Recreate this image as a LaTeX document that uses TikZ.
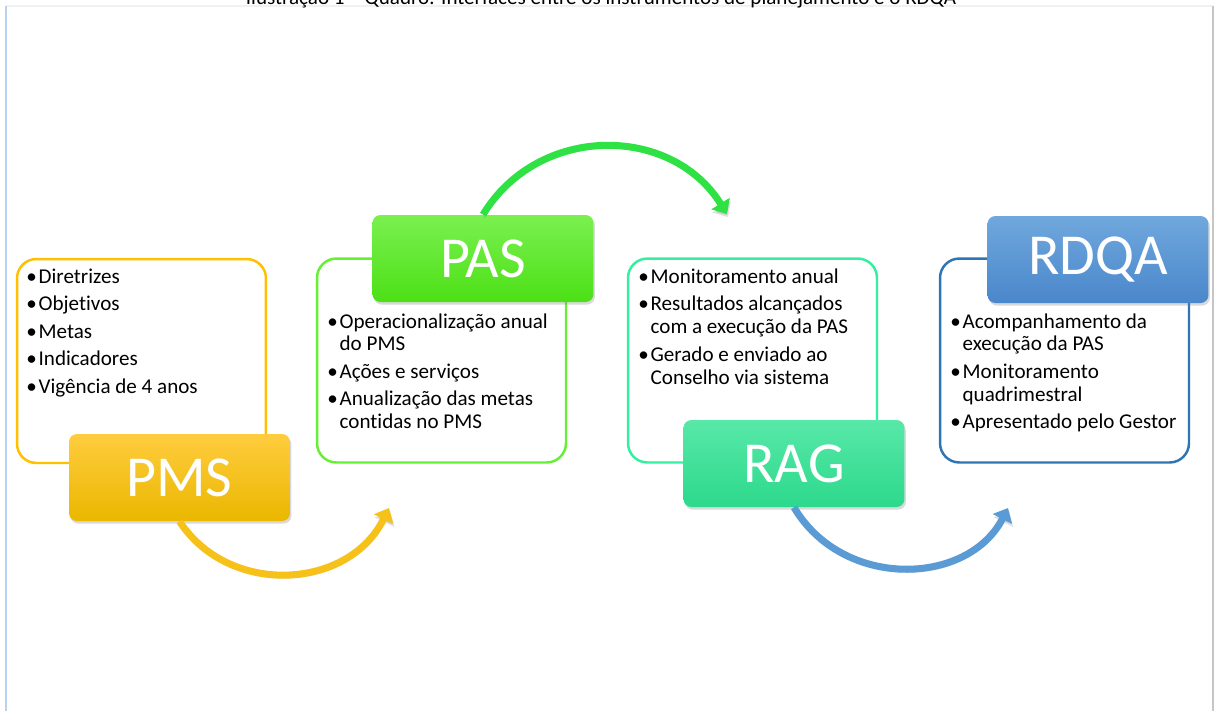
\documentclass[tikz,border=0pt]{standalone}
\usepackage{fontspec}
\setmainfont[Ligatures=NoCommon]{Carlito}
\usetikzlibrary{arrows.meta,shadows}
\definecolor{pmsline}{HTML}{FFC000}
\definecolor{pmstop}{HTML}{FFCC3F}
\definecolor{pmsbot}{HTML}{EAB700}
\definecolor{pasline}{HTML}{66F033}
\definecolor{pastop}{HTML}{7BF050}
\definecolor{pasbot}{HTML}{4CE016}
\definecolor{ragline}{HTML}{35EFA0}
\definecolor{ragtop}{HTML}{58E8A8}
\definecolor{ragbot}{HTML}{2CD98C}
\definecolor{rdqaline}{HTML}{2E75B6}
\definecolor{rdqatop}{HTML}{70A8DD}
\definecolor{rdqabot}{HTML}{4A87CB}
\definecolor{yellowarrow}{HTML}{F6C21A}
\definecolor{greenarrow}{HTML}{2FE244}
\definecolor{bluearrow}{HTML}{5B9BD5}
\tikzset{
%Define standard arrow tip
>={Triangle[length=7pt,width=12pt]},
%Define styles for the boxes and the cycle arrows
body box/.style={draw, line width=1.4pt, rounded corners=11pt, fill=white, minimum width=4.98cm, minimum height=4.08cm},
title box/.style={rounded corners=4.5pt, minimum width=4.42cm, minimum height=1.74cm, text=white, font=\fontsize{33}{36}\selectfont, drop shadow={opacity=.3, shadow xshift=.8pt, shadow yshift=-1.5pt}},
cycle arrow/.style={->, line width=4pt, preaction={draw=black, opacity=.12, transform canvas={xshift=.6pt, yshift=-1.8pt}}},
bullet list/.style={anchor=base west, inner sep=0pt, font=\fontsize{12}{13}\selectfont},
}

\begin{document}
\begin{tikzpicture}[x=0.02cm, y=-0.02cm]
\useasboundingbox (0,0) rectangle (1216,711);
\clip (0,0) rectangle (1216,711);
% Frame and cut caption
\draw[color=blue!20!gray!10, line width=.6pt] (6,6) -- (1213,6);
\draw[color=rdqatop!50, line width=1.2pt] (6,6) -- (6,711);
\draw[color=gray!45, line width=.6pt] (1213,6) -- (1213,711);
\node[anchor=base, inner sep=0pt, font=\fontsize{12}{13}\selectfont] (caption) at (601,4) {Ilustração 1 -- Quadro: Interfaces entre os instrumentos de planejamento e o RDQA};
% Boxes with the lists
\node[body box, draw=pmsline] (pmsB) at (141.5,361) {};
\node[body box, draw=pasline] (pasB) at (441.5,360.5) {};
\node[body box, draw=ragline] (ragB) at (752.5,360.5) {};
\node[body box, draw=rdqaline] (rdqaB) at (1064.5,360.5) {};
\node[bullet list] (pmsL) at (26,283.5) {\begin{tabular}[t]{@{}p{7pt}@{}l@{}}
\textbullet & Diretrizes\\[2.6pt]
\textbullet & Objetivos\\[2.6pt]
\textbullet & Metas\\[2.6pt]
\textbullet & Indicadores\\[2.6pt]
\textbullet & Vigência de 4 anos
\end{tabular}};
\node[bullet list] (pasL) at (327,328) {\begin{tabular}[t]{@{}p{7pt}@{}l@{}}
\textbullet & Operacionalização anual\\
 & do PMS\\[2.6pt]
\textbullet & Ações e serviços\\[2.6pt]
\textbullet & Anualização das metas\\
 & contidas no PMS
\end{tabular}};
\node[bullet list] (ragL) at (638,283.5) {\begin{tabular}[t]{@{}p{7pt}@{}l@{}}
\textbullet & Monitoramento anual\\[2.6pt]
\textbullet & Resultados alcançados\\
 & com a execução da PAS\\[2.6pt]
\textbullet & Gerado e enviado ao\\
 & Conselho via sistema
\end{tabular}};
\node[bullet list] (rdqaL) at (950,328) {\begin{tabular}[t]{@{}p{7pt}@{}l@{}}
\textbullet & Acompanhamento da\\
 & execução da PAS\\[2.6pt]
\textbullet & Monitoramento\\
 & quadrimestral\\[2.6pt]
\textbullet & Apresentado pelo Gestor
\end{tabular}};
% Title boxes
\node[title box, top color=pmstop, bottom color=pmsbot] (pmsT) at (179.5,477.5) {PMS};
\node[title box, top color=pastop, bottom color=pasbot] (pasT) at (483,258.5) {PAS};
\node[title box, top color=ragtop, bottom color=ragbot] (ragT) at (794,463.5) {RAG};
\node[title box, top color=rdqatop, bottom color=rdqabot] (rdqaT) at (1098,259.5) {RDQA};
% Arrow ends
\coordinate (pmsEnd) at (389,508);
\coordinate (pasEnd) at (727,214);
\coordinate (ragEnd) at (1008,508);
% Cycle arrows
\draw[cycle arrow, yellowarrow] (pmsT.south) .. controls (229,597) and (349,590) .. (pmsEnd);
\draw[cycle arrow, greenarrow] (pasT.north) .. controls (538,124) and (671,124) .. (pasEnd);
\draw[cycle arrow, bluearrow] (ragT.south) .. controls (843,590) and (968,586) .. (ragEnd);
\end{tikzpicture}
\end{document}
